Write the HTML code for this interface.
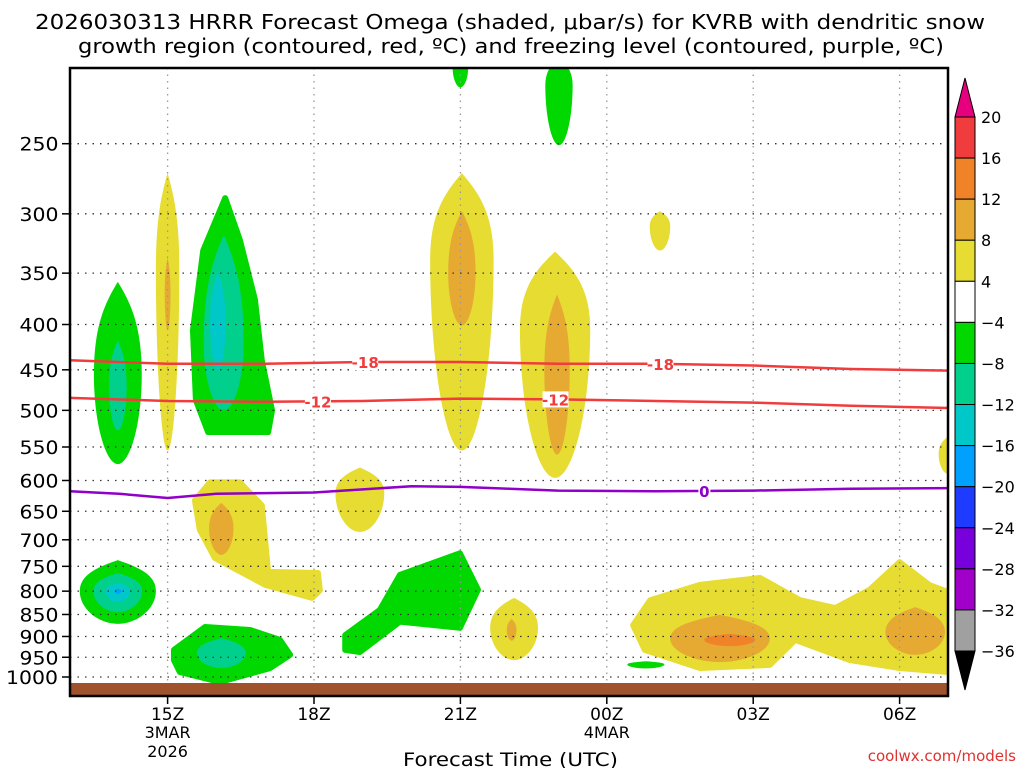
<!DOCTYPE html>
<html><head><meta charset="utf-8">
<style>
body{margin:0;background:#fff;}
svg text{font-family:"DejaVu Sans","Liberation Sans",sans-serif;}
</style></head>
<body>
<svg id="chart" width="1024" height="768" viewBox="0 0 1024 768" xmlns="http://www.w3.org/2000/svg">
<rect width="1024" height="768" fill="#fff"/>
<text x="35" y="29" font-size="20" textLength="950" lengthAdjust="spacingAndGlyphs" fill="#000">2026030313 HRRR Forecast Omega (shaded, μbar/s) for KVRB with dendritic snow</text>
<text x="78" y="53" font-size="20" textLength="866" lengthAdjust="spacingAndGlyphs" fill="#000">growth region (contoured, red, ºC) and freezing level (contoured, purple, ºC)</text>
<g id="shades"></g>
<g id="grid"></g>
<g id="lines"></g>
<rect x="70" y="683" width="878" height="12" fill="#a0522d"/>
<rect x="70" y="68" width="878" height="628" fill="none" stroke="#000" stroke-width="2.5"/>
<g id="axes"></g>
<g id="cbar"></g>
<text x="403" y="766" font-size="19" textLength="215" lengthAdjust="spacingAndGlyphs">Forecast Time (UTC)</text>
<text x="1016" y="761" font-size="15" text-anchor="end" fill="#e03030">coolwx.com/models</text>
</svg>
<script>
const pLevels=[250,300,350,400,450,500,550,600,650,700,750,800,850,900,950,1000];
const xTickHours=[15,18,21,24,27,30];
const xTickLabels=["15Z","18Z","21Z","00Z","03Z","06Z"];
const cbLevels=[20,16,12,8,4,-4,-8,-12,-16,-20,-24,-28,-32,-36];
const cbColors=["#f03c3c","#f08228","#e6aa32","#e6dc32","#ffffff","#00d800","#00d08c","#00c8c8","#00a0ff","#1e3cff","#7800dc","#a000c8","#a0a0a0"];
// polygon blobs drawn first: [colorIndex, [[hour,p],...]]
const polyBlobs=[
 [3,[[15.56,632],[15.87,603],[16.48,603],[16.93,640],[17.06,761],[18.08,763],[18.12,798],[17.96,814],[17.0,787],[15.97,734],[15.66,682]]],
 [5,[[18.64,932],[18.64,897],[19.35,840],[19.76,767],[20.99,725],[21.36,797],[20.99,880],[19.76,866],[18.94,937]]],
 [3,[[24.54,874],[24.89,819],[25.91,787],[27.14,773],[27.96,819],[28.68,836],[29.39,797],[30.0,742],[30.62,788],[31,802],[31,987],[30,977],[28.98,957],[27.86,908],[27.34,969],[25.91,977],[24.78,932]]],
 [5,[[16.18,288],[16.48,321],[16.79,375],[16.93,439],[17.14,500],[17.06,529],[15.83,529],[15.58,487],[15.52,406],[15.73,330]]],
 [5,[[15.13,932],[15.77,878],[16.69,885],[17.3,908],[17.51,944],[17.1,977],[16.07,1013],[15.25,987],[15.13,957]]]
];
// lens blobs: [hour, pTop, pMid, pBot, halfWidthHours, colorIndex]
const lensBlobs=[
 [13.98,358,456,575,0.49,5],[13.98,417,470,527,0.18,6],
 [15.0,270,347,555,0.24,3],[15.0,336,370,406,0.06,2],
 [16.15,317,420,500,0.41,6],[16.03,349,400,450,0.16,7],
 [21.0,200,205,216,0.16,5],[23.02,200,215,251,0.28,5],
 [21.03,270,338,555,0.65,3],[21.03,298,350,401,0.28,2],
 [22.94,331,405,596,0.72,3],[22.98,370,450,561,0.26,2],
 [25.09,298,310,330,0.21,3],[31.0,535,560,590,0.2,3],
 [18.94,580,620,686,0.5,3],[16.1,636,680,728,0.25,2],
 [13.98,738,800,871,0.78,5],[13.98,763,800,845,0.5,6],[13.98,783,800,823,0.25,7],[13.98,795,800,806,0.07,8],
 [16.1,904,940,977,0.5,6],
 [22.1,814,880,957,0.49,3],[22.05,860,885,910,0.1,2],
 [24.8,960,968,978,0.38,5],
 [26.32,851,905,962,1.02,2],[26.52,894,908,923,0.52,1],[30.32,834,890,944,0.61,2]
];
const lineHours=[13,15,17,19,21,23,25,27,29,31];
const tMinus18=[439,443,443,441,441,443,443,445,449,451];
const tMinus12=[484,488,489,488,485,486,488,490,494,497];
const frzHours=[13,14,15,16,17,18,19,20,21,22,23,25,27,29,31];
const frzLevel=[617,621,628,621,620,619,614,609,610,613,616,617,616,613,612];

const NS="http://www.w3.org/2000/svg";
const X0=70,H0=13,PXH=48.8,Y1000=677,PXL=384.7;
const xS=h=>X0+(h-H0)*PXH;
const yS=p=>Y1000+PXL*Math.log(p/1000);
function mk(tag,attrs,parent){const e=document.createElementNS(NS,tag);for(const k in attrs)e.setAttribute(k,attrs[k]);parent.appendChild(e);return e;}
const shades=document.getElementById('shades');
const clip=mk('clipPath',{id:'pc'},shades);mk('rect',{x:70,y:68,width:878,height:628},clip);
const sg=mk('g',{'clip-path':'url(#pc)'},shades);
const fillOf=i=>cbColors[i];
function lens(b){
 const [h,pt,pm,pb,w,c]=b;const x=xS(h),yt=yS(pt),ym=yS(pm),yb=yS(pb),dx=w*PXH;
 const d=`M${x},${yt} C${x+dx*0.6},${yt+(ym-yt)*0.25} ${x+dx},${ym-(ym-yt)*0.5} ${x+dx},${ym} C${x+dx},${ym+(yb-ym)*0.55} ${x+dx*0.5},${yb} ${x},${yb} C${x-dx*0.5},${yb} ${x-dx},${ym+(yb-ym)*0.55} ${x-dx},${ym} C${x-dx},${ym-(ym-yt)*0.5} ${x-dx*0.6},${yt+(ym-yt)*0.25} ${x},${yt}Z`;
 const e=mk('path',{d,fill:fillOf(c)},sg);
 
 
}
function poly(b){
 const pts=b[1].map(q=>xS(q[0])+','+yS(q[1])).join(' ');
 const e=mk('polygon',{points:pts,fill:fillOf(b[0]),stroke:fillOf(b[0]),'stroke-width':6,'stroke-linejoin':'round'},sg);
 
 
}
polyBlobs.forEach(poly);
lensBlobs.forEach(lens);

const grid=document.getElementById('grid'),axes=document.getElementById('axes');
pLevels.forEach(p=>{
 const y=yS(p);
 const l=mk('line',{x1:70,x2:948,y1:y,y2:y,stroke:'#333','stroke-width':1.3,'stroke-dasharray':'1.5 6'},grid);
 
 
 const t=mk('line',{x1:62,x2:70,y1:y,y2:y,stroke:'#000','stroke-width':1.5},axes);
 
 
 const s=String(p);
 const tx=mk('text',{x:60-s.length*13.5,y:y+7,'font-size':19,textLength:s.length*13,lengthAdjust:'spacingAndGlyphs'},axes);tx.textContent=s;
 
 
});
xTickHours.forEach((h,i)=>{
 const x=xS(h);
 const l=mk('line',{x1:x,x2:x,y1:68,y2:696,stroke:'#999','stroke-width':1.3,'stroke-dasharray':'1.5 5'},grid);
 
 
 const t=mk('line',{x1:x,x2:x,y1:696,y2:704,stroke:'#000','stroke-width':1.5},axes);
 
 
 const tx=mk('text',{x:x,y:720,'font-size':17,'text-anchor':'middle'},axes);tx.textContent=xTickLabels[i];
 
 
});
[[15,"3MAR",738],[15,"2026",757],[24,"4MAR",738]].forEach(a=>{
 const tx=mk('text',{x:xS(a[0]),y:a[2],'font-size':16,'text-anchor':'middle'},axes);tx.textContent=a[1];
 
 
});

const lines=document.getElementById('lines');
function cline(hs,ps,color,name){
 const d=hs.map((h,i)=>(i?'L':'M')+xS(h)+','+yS(ps[i])).join(' ');
 const e=mk('path',{d,fill:'none',stroke:color,'stroke-width':2.5},lines);
 
 
}
function interp(hs,ps,h){for(let i=0;i<hs.length-1;i++)if(h>=hs[i]&&h<=hs[i+1])return ps[i]+(ps[i+1]-ps[i])*(h-hs[i])/(hs[i+1]-hs[i]);return ps[0];}
function clabel(hs,ps,h,txt,color){
 const x=xS(h),y=yS(interp(hs,ps,h));
 mk('rect',{x:x-13,y:y-8,width:26,height:16,fill:'#fff'},lines);
 const t=mk('text',{x:x,y:y+6,'font-size':15,'font-weight':'bold','text-anchor':'middle',fill:color},lines);t.textContent=txt;
 
 
}
cline(lineHours,tMinus18,'#f03c3c','isotherm-minus-18');
cline(lineHours,tMinus12,'#f03c3c','isotherm-minus-12');
cline(frzHours,frzLevel,'#9000c8','freezing-level-line');
clabel(lineHours,tMinus18,19.05,'-18','#f03c3c');
clabel(lineHours,tMinus18,25.1,'-18','#f03c3c');
clabel(lineHours,tMinus12,18.08,'-12','#f03c3c');
clabel(lineHours,tMinus12,22.95,'-12','#f03c3c');
(function(){const x=xS(26.0),y=yS(interp(frzHours,frzLevel,26.0));
 mk('rect',{x:x-6,y:y-8,width:12,height:16,fill:'#fff'},lines);
 const t=mk('text',{x:x,y:y+6,'font-size':15,'font-weight':'bold','text-anchor':'middle',fill:'#9000c8'},lines);t.textContent='0';
 
 })();

const cb=document.getElementById('cbar');
const CBX=955,CBW=20,CBT=117,STEP=(651-117)/13;
cbColors.forEach((c,i)=>{
 const r=mk('rect',{x:CBX,y:CBT+i*STEP,width:CBW,height:STEP,fill:c,stroke:'#000','stroke-width':1},cb);
 
 
});
mk('polygon',{points:`${CBX},${CBT} ${CBX+CBW},${CBT} ${CBX+CBW/2},78`,fill:'#e6007e',stroke:'#000'},cb);
mk('polygon',{points:`${CBX},651 ${CBX+CBW},651 ${CBX+CBW/2},690`,fill:'#000',stroke:'#000'},cb);
cbLevels.forEach((v,i)=>{
 const t=mk('text',{x:981,y:CBT+i*STEP+6,'font-size':16},cb);t.textContent=v<0?'−'+(-v):v;
 
 
});
</script>
</body></html>
